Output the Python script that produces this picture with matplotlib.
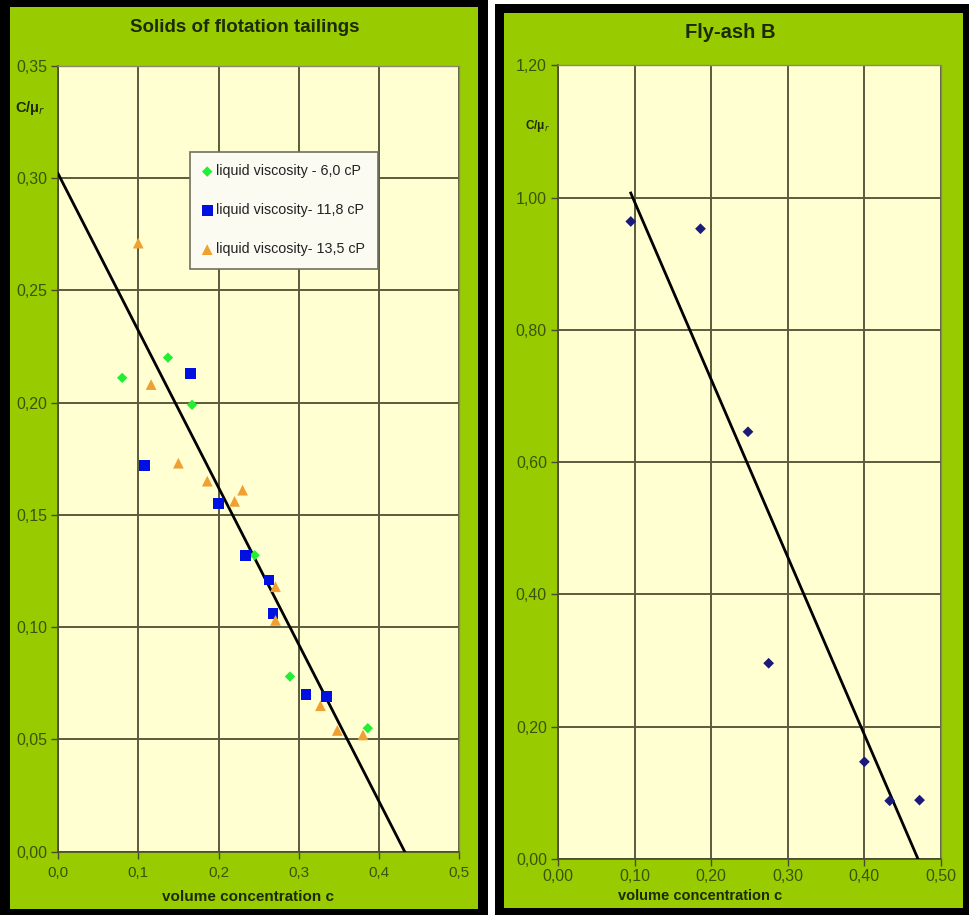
import matplotlib
matplotlib.use("Agg")
import matplotlib.pyplot as plt
from matplotlib.patches import Rectangle
from matplotlib.ticker import FixedLocator, FuncFormatter

plt.rcParams['font.family'] = ['Liberation Sans', 'DejaVu Sans']

# ---------------- data: left panel ----------------
left_title = "Solids of flotation tailings"
visc6_x = [0.080, 0.137, 0.167, 0.245, 0.289, 0.386]
visc6_y = [0.211, 0.220, 0.199, 0.132, 0.078, 0.055]
visc11_x = [0.108, 0.165, 0.200, 0.234, 0.263, 0.268, 0.309, 0.335]
visc11_y = [0.172, 0.213, 0.155, 0.132, 0.121, 0.106, 0.070, 0.069]
visc13_x = [0.100, 0.116, 0.150, 0.186, 0.220, 0.230, 0.271, 0.271, 0.327, 0.348, 0.380]
visc13_y = [0.271, 0.208, 0.173, 0.165, 0.156, 0.161, 0.118, 0.103, 0.065, 0.054, 0.052]
left_fit_x = [0.0, 0.432]
left_fit_y = [0.302, 0.0]
left_labels = ["liquid viscosity - 6,0 cP", "liquid viscosity- 11,8 cP", "liquid viscosity- 13,5 cP"]
left_xticks = [0.0, 0.1, 0.2, 0.3, 0.4, 0.5]
left_yticks = [0.0, 0.05, 0.10, 0.15, 0.20, 0.25, 0.30, 0.35]

# ---------------- data: right panel ----------------
right_title = "Fly-ash B"
fly_x = [0.095, 0.186, 0.248, 0.275, 0.400, 0.433, 0.472]
fly_y = [0.964, 0.953, 0.646, 0.296, 0.147, 0.088, 0.089]
right_fit_x = [0.095, 0.470]
right_fit_y = [1.007, 0.0]
right_xticks = [0.0, 0.1, 0.2, 0.3, 0.4, 0.5]
right_yticks = [0.0, 0.2, 0.4, 0.6, 0.8, 1.0, 1.2]

xlabel = "volume concentration c"
ylabel = "C/μ$_r$"

# ---------------- styling ----------------
W, H = 969, 915
fig = plt.figure(figsize=(W / 100, H / 100), dpi=100, facecolor='white')

def px_rect(x0, y0, x1, y1, color, z):
    fig.patches.append(Rectangle((x0 / W, 1 - y1 / H), (x1 - x0) / W, (y1 - y0) / H,
                                 transform=fig.transFigure, facecolor=color,
                                 edgecolor='none', zorder=z))

GREEN = '#99CC00'
px_rect(0, 0, 488, 915, 'black', 0)
px_rect(495, 4, 969, 915, 'black', 0)
px_rect(10, 7, 478, 909, GREEN, 1)
px_rect(504, 13, 963, 908, GREEN, 1)

PLOT_BG = '#FFFFD2'
GRID_C = '#5a5a3c'
TICK_C = '#3a5408'
TITLE_C = '#1c2a05'

def style_axes(ax, xticks, yticks, xfmt, yfmt, xlim, ylim, xsize, ysize, xpad):
    ax.set_facecolor(PLOT_BG)
    ax.set_xlim(*xlim)
    ax.set_ylim(*ylim)
    ax.xaxis.set_major_locator(FixedLocator(xticks))
    ax.yaxis.set_major_locator(FixedLocator(yticks))
    ax.xaxis.set_major_formatter(FuncFormatter(lambda v, p: (xfmt % v).replace('.', ',')))
    ax.yaxis.set_major_formatter(FuncFormatter(lambda v, p: (yfmt % v).replace('.', ',')))
    ax.grid(True, color=GRID_C, linewidth=1.4)
    ax.set_axisbelow(True)
    for s in ['top', 'right']:
        ax.spines[s].set_color('#8a8a6a')
        ax.spines[s].set_linewidth(1.0)
    for s in ['left', 'bottom']:
        ax.spines[s].set_color('#4a4a30')
        ax.spines[s].set_linewidth(1.2)
    ax.tick_params(axis='both', colors='#4a4a30', labelcolor=TICK_C,
                   length=5, width=1.0, direction='out')
    ax.tick_params(axis='x', pad=xpad, labelsize=xsize)
    ax.tick_params(axis='y', pad=3, labelsize=ysize)

# left axes
axL = fig.add_axes([58 / W, 1 - 851.7 / H, (459.3 - 58) / W, (851.7 - 65.7) / H])
axL.set_zorder(2)
style_axes(axL, left_xticks, left_yticks, '%.1f', '%.2f', (0, 0.5), (0, 0.35), 11, 11.5, 5)
axL.plot(left_fit_x, left_fit_y, color='black', linewidth=2.0, zorder=3)
axL.scatter(visc6_x, visc6_y, marker='D', s=28, color='#22EE33', edgecolors='none', zorder=4,
            label=left_labels[0])
axL.scatter(visc11_x, visc11_y, marker='s', s=60, color='#0010E0', edgecolors='none', zorder=4,
            label=left_labels[1])
axL.scatter(visc13_x, visc13_y, marker='^', s=60, color='#F0A030', edgecolors='none', zorder=4,
            label=left_labels[2])
leg = axL.legend(loc='upper left', bbox_to_anchor=(0.329, 0.890), fontsize=10.3,
                 labelspacing=1.75, handlelength=0.7, handletextpad=0.3, borderpad=0.85,
                 borderaxespad=0, frameon=True, fancybox=False, markerscale=1.0)
leg.get_frame().set_facecolor('#FBFBF2')
leg.get_frame().set_edgecolor('#707060')
leg.get_frame().set_linewidth(1.2)
leg.get_frame().set_alpha(1)
for t in leg.get_texts():
    t.set_color('#222222')
fig.text(245 / W, 1 - 28 / H, left_title, ha='center', va='center', fontsize=13.5,
         fontweight='bold', color=TITLE_C, zorder=5)
fig.text(248 / W, 1 - 897 / H, xlabel, ha='center', va='center', fontsize=11,
         fontweight='bold', color=TITLE_C, zorder=5)
fig.text(30 / W, 1 - 108 / H, ylabel, ha='center', va='center', fontsize=10.5,
         fontweight='bold', color=TITLE_C, zorder=5)

# right axes
axR = fig.add_axes([558 / W, 1 - 859 / H, (941 - 558) / W, (859 - 65.4) / H])
axR.set_zorder(2)
style_axes(axR, right_xticks, right_yticks, '%.2f', '%.2f', (0, 0.5), (0, 1.2), 11.5, 11.5, 2.5)
axR.plot(right_fit_x, right_fit_y, color='black', linewidth=2.0, zorder=3)
axR.scatter(fly_x, fly_y, marker='D', s=30, color='#1a1a7a', edgecolors='none', zorder=4)
fig.text(730 / W, 1 - 32 / H, right_title, ha='center', va='center', fontsize=14.5,
         fontweight='bold', color=TITLE_C, zorder=5)
fig.text(700 / W, 1 - 896 / H, xlabel, ha='center', va='center', fontsize=10.5,
         fontweight='bold', color=TITLE_C, zorder=5)
fig.text(537 / W, 1 - 126 / H, ylabel, ha='center', va='center', fontsize=8.5,
         fontweight='bold', color=TITLE_C, zorder=5)

fig.savefig('out.png', dpi=100, facecolor='white')
